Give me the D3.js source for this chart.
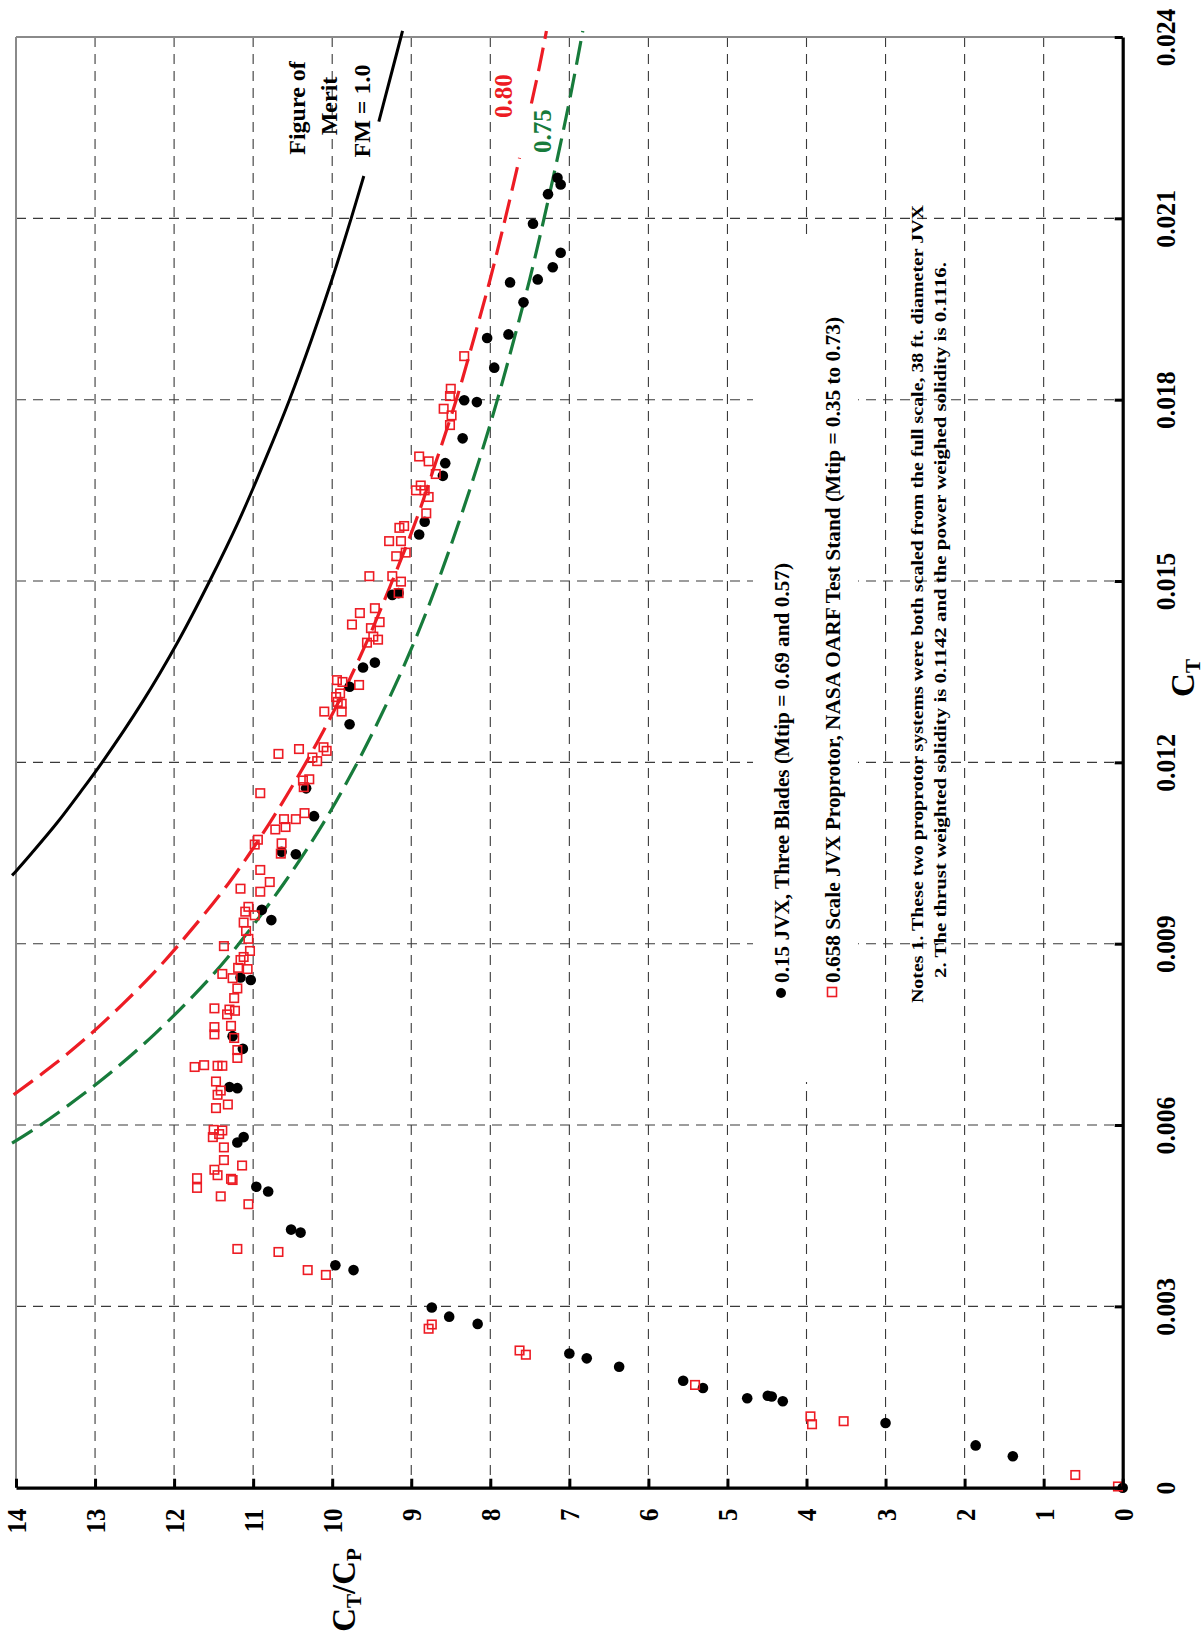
<!DOCTYPE html>
<html>
<head>
<meta charset="utf-8">
<script src="https://cdn.jsdelivr.net/npm/d3@7"></script>
<style>
  html, body { margin: 0; padding: 0; background: #fff; }
  text { font-family: "Liberation Serif", "Times New Roman", serif; font-weight: bold; }
</style>
</head>
<body>
<script>
// ---------------- DATA ----------------
// Tick values
const ctTicks = [0, 0.003, 0.006, 0.009, 0.012, 0.015, 0.018, 0.021, 0.024];
const ctTickLabels = ["0", "0.003", "0.006", "0.009", "0.012", "0.015", "0.018", "0.021", "0.024"];
const ratioTicks = [0, 1, 2, 3, 4, 5, 6, 7, 8, 9, 10, 11, 12, 13, 14];
const ratioTickLabels = ["0", "1", "2", "3", "4", "5", "6", "7", "8", "9", "10", "11", "12", "13", "14"];

// 0.15 JVX, Three Blades (black dots): CT and CT/CP
const blackCT = [0, 0.00052, 0.00070, 0.00107, 0.00143, 0.00151, 0.00152, 0.00148, 0.00165, 0.00177,
  0.00200, 0.00214, 0.00222, 0.00271, 0.00283, 0.00298, 0.00360, 0.00368, 0.00422, 0.00427,
  0.00490, 0.00498, 0.00580, 0.00571, 0.00661, 0.00663, 0.00726, 0.00747, 0.00840, 0.00844,
  0.00939, 0.00956, 0.01048, 0.01052, 0.01111, 0.01157, 0.01263, 0.01325, 0.01357, 0.01365,
  0.01477, 0.01480, 0.01577, 0.01598, 0.01674, 0.01695, 0.01736, 0.01799, 0.01796, 0.01853,
  0.01902, 0.01908, 0.01961, 0.01994, 0.01999, 0.02019, 0.02043, 0.02091, 0.02140, 0.02167, 0.02156];
const blackRatio = [0, 1.39, 1.86, 3.00, 4.30, 4.44, 4.49, 4.75, 5.31, 5.56,
  6.37, 6.78, 7.00, 8.16, 8.52, 8.74, 9.73, 9.96, 10.40, 10.52,
  10.81, 10.96, 11.12, 11.20, 11.20, 11.30, 11.13, 11.26, 11.03, 11.16,
  10.77, 10.89, 10.46, 10.64, 10.23, 10.33, 9.78, 9.78, 9.61, 9.46,
  9.24, 9.16, 8.90, 8.83, 8.60, 8.57, 8.35, 8.33, 8.17, 7.95,
  8.04, 7.77, 7.58, 7.75, 7.40, 7.21, 7.11, 7.46, 7.27, 7.15, 7.11];

// 0.658 Scale JVX Proprotor, NASA OARF (red squares): CT and CT/CP
const redCT = [0.00002, 0.00021, 0.00110, 0.00118, 0.00105, 0.00170, 0.00220, 0.00227, 0.00270, 0.00263,
  0.00352, 0.00360, 0.00390, 0.00395, 0.00469, 0.00482, 0.00512, 0.00496, 0.00511, 0.00509,
  0.00526, 0.00517, 0.00533, 0.00542, 0.00563, 0.00580, 0.00585, 0.00591, 0.00592, 0.00628,
  0.00634, 0.00650, 0.00657, 0.00672, 0.00696, 0.00699, 0.00698, 0.00698, 0.00711, 0.00724,
  0.00744, 0.00750, 0.00762, 0.00764, 0.00783, 0.00789, 0.00791, 0.00793, 0.00810, 0.00826,
  0.00843, 0.00850, 0.00858, 0.00860, 0.00873, 0.00878, 0.00888, 0.00896, 0.00908, 0.00921,
  0.00935, 0.00947, 0.00953, 0.00961, 0.00986, 0.00991, 0.01002, 0.01022, 0.01049, 0.01066,
  0.01064, 0.01072, 0.01089, 0.01093, 0.01106, 0.01106, 0.01116, 0.01149, 0.01159, 0.01170,
  0.01172, 0.01202, 0.01208, 0.01214, 0.01219, 0.01225, 0.01222, 0.01284, 0.01284, 0.01297,
  0.01300, 0.01308, 0.01314, 0.01328, 0.01333, 0.01336, 0.01398, 0.01403, 0.01408, 0.01422,
  0.01428, 0.01432, 0.01447, 0.01455, 0.01480, 0.01499, 0.01508, 0.01508, 0.01541, 0.01547,
  0.01566, 0.01566, 0.01588, 0.01591, 0.01612, 0.01639, 0.01650, 0.01650, 0.01658, 0.01677,
  0.01698, 0.01706, 0.01758, 0.01774, 0.01785, 0.01806, 0.01818, 0.01872];
const redRatio = [0.06, 0.60, 3.53, 3.95, 3.93, 5.41, 7.55, 7.63, 8.74, 8.78,
  10.08, 10.31, 10.68, 11.20, 11.06, 11.41, 11.71, 11.71, 11.28, 11.26,
  11.49, 11.45, 11.14, 11.37, 11.37, 11.51, 11.43, 11.39, 11.50, 11.47,
  11.32, 11.45, 11.41, 11.47, 11.74, 11.62, 11.45, 11.39, 11.20, 11.20,
  11.24, 11.49, 11.49, 11.28, 11.33, 11.23, 11.30, 11.49, 11.24, 11.20,
  11.26, 11.39, 11.07, 11.19, 11.16, 11.12, 11.04, 11.37, 11.06, 11.09,
  11.12, 10.98, 11.10, 11.06, 10.91, 11.16, 10.79, 10.91, 10.65, 10.64,
  10.98, 10.94, 10.72, 10.59, 10.61, 10.46, 10.35, 10.91, 10.36, 10.37,
  10.29, 10.19, 10.25, 10.68, 10.07, 10.11, 10.42, 10.10, 9.88, 9.88,
  9.93, 9.95, 9.90, 9.66, 9.87, 9.94, 9.56, 9.42, 9.48, 9.51,
  9.75, 9.40, 9.65, 9.46, 9.16, 9.13, 9.53, 9.24, 9.19, 9.07,
  9.28, 9.13, 9.15, 9.09, 8.81, 8.78, 8.94, 8.83, 8.88, 8.69,
  8.78, 8.90, 8.51, 8.49, 8.59, 8.51, 8.50, 8.33];

// Figure of merit curves (null = break in the drawn curve)
const fm100CT = [0.01013, 0.0102, 0.0105, 0.011, 0.0115, 0.012, 0.013, 0.014, 0.015, 0.016, 0.017, 0.018, 0.019, 0.020, 0.021, 0.0217, null, 0.0226, 0.023, 0.024, 0.0241];
const fm100Ratio = [14.05, 14.00, 13.80, 13.48, 13.19, 12.91, 12.40, 11.95, 11.55, 11.18, 10.85, 10.54, 10.26, 10.00, 9.76, 9.60, null, 9.41, 9.33, 9.13, 9.11];
const fm080CT = [0.0065, 0.0070, 0.0075, 0.0080, 0.0085, 0.0090, 0.0100, 0.0110, 0.0120, 0.0130, 0.0140, 0.0150, 0.0160, 0.0170, 0.0180, 0.0190, 0.0200, 0.0210, 0.0220, null, 0.0229, 0.0235, 0.0241];
const fm080Ratio = [14.03, 13.52, 13.06, 12.65, 12.27, 11.93, 11.31, 10.79, 10.33, 9.92, 9.56, 9.24, 8.94, 8.68, 8.43, 8.21, 8.00, 7.81, 7.63, null, 7.48, 7.38, 7.29];
const fm075CT = [0.0057, 0.0060, 0.0065, 0.0070, 0.0075, 0.0080, 0.0085, 0.0090, 0.0100, 0.0110, 0.0120, 0.0130, 0.0140, 0.0150, 0.0160, 0.0170, 0.0180, 0.0190, 0.0200, 0.0210, 0.0220, 0.0230, 0.0241];
const fm075Ratio = [14.05, 13.69, 13.16, 12.68, 12.25, 11.86, 11.50, 11.18, 10.61, 10.11, 9.68, 9.30, 8.96, 8.66, 8.39, 8.14, 7.91, 7.70, 7.50, 7.32, 7.15, 6.99, 6.83];

const legendLabels = ["0.15 JVX, Three Blades (Mtip = 0.69 and 0.57)",
  "0.658 Scale JVX Proprotor, NASA OARF Test Stand (Mtip = 0.35 to 0.73)"];
const noteLines = ["Notes 1. These two proprotor systems were both scaled from the full scale, 38 ft. diameter JVX",
  "2. The thrust weighted solidity is 0.1142 and the power weighed solidity is 0.1116."];

// ---------------- LAYOUT ----------------
const W = 1204, H = 1636;
const RED = "#ed1c24", GREEN = "#177b3b";
const svg = d3.select("body").append("svg").attr("width", W).attr("height", H);
svg.append("rect").attr("width", W).attr("height", H).attr("fill", "#fff");

// The chart is drawn rotated: CT runs up the page, CT/CP runs right-to-left.
const xR = d3.scaleLinear().domain([0, 14]).range([1122.7, 16]);     // CT/CP -> screen x
const yC = d3.scaleLinear().domain([0, 0.024]).range([1487.7, 37]);  // CT -> screen y

// grid
const grid = svg.append("g").attr("stroke", "#3a3a3a").attr("stroke-width", 1.1).attr("stroke-dasharray", "10,7");
grid.selectAll("line.v").data(ratioTicks.filter(d => d > 0 && d < 14)).join("line")
  .attr("x1", d => xR(d)).attr("x2", d => xR(d)).attr("y1", yC(0.024)).attr("y2", yC(0));
grid.selectAll("line.h").data(ctTicks.filter(d => d > 0 && d < 0.024)).join("line")
  .attr("y1", d => yC(d)).attr("y2", d => yC(d)).attr("x1", xR(14)).attr("x2", xR(0));

// legend background box (hides the grid behind it)
svg.append("rect").attr("x", 753).attr("y", 240).attr("width", 105).attr("height", 842).attr("fill", "#fff");

// gray frame (top, left)
svg.append("line").attr("x1", xR(14)).attr("x2", xR(0)).attr("y1", yC(0.024)).attr("y2", yC(0.024))
  .attr("stroke", "#8a8a8a").attr("stroke-width", 2);
svg.append("line").attr("x1", xR(14)).attr("x2", xR(14)).attr("y1", yC(0.024)).attr("y2", yC(0))
  .attr("stroke", "#8a8a8a").attr("stroke-width", 2);

// curves
const line = d3.line()
  .defined(d => d[0] != null)
  .x(d => xR(d[1])).y(d => yC(d[0]))
  .curve(d3.curveCatmullRom);
const zip = (a, b) => a.map((v, i) => [v, b[i]]);
svg.append("path").attr("d", line(zip(fm100CT, fm100Ratio))).attr("fill", "none")
  .attr("stroke", "#000").attr("stroke-width", 3);
svg.append("path").attr("d", line(zip(fm080CT, fm080Ratio))).attr("fill", "none")
  .attr("stroke", RED).attr("stroke-width", 3.2).attr("stroke-dasharray", "24,9");
svg.append("path").attr("d", line(zip(fm075CT, fm075Ratio))).attr("fill", "none")
  .attr("stroke", GREEN).attr("stroke-width", 3.2).attr("stroke-dasharray", "24,9");

// data points
svg.append("g").selectAll("circle").data(zip(blackCT, blackRatio)).join("circle")
  .attr("cx", d => xR(d[1])).attr("cy", d => yC(d[0])).attr("r", 5.3).attr("fill", "#000");
const sq = 8.5;
svg.append("g").selectAll("rect").data(zip(redCT, redRatio)).join("rect")
  .attr("x", d => xR(d[1]) - sq / 2).attr("y", d => yC(d[0]) - sq / 2)
  .attr("width", sq).attr("height", sq).attr("fill", "none").attr("stroke", RED).attr("stroke-width", 1.6);

// rotated text helper
function rtext(x, y, str, size, anchor, fill, extra) {
  const t = svg.append("text")
    .attr("transform", `translate(${x},${y}) rotate(-90)` + (extra && extra.scale ? ` scale(${extra.scale},1)` : ""))
    .attr("text-anchor", anchor).attr("dy", "0.35em")
    .attr("font-size", size).attr("fill", fill || "#000").text(str);
  if (extra && extra.len) t.attr("textLength", extra.len).attr("lengthAdjust", "spacingAndGlyphs");
  return t;
}

// curve labels
rtext(297, 108, "Figure of", 24, "middle");
rtext(329, 106, "Merit", 24, "middle");
rtext(362, 111, "FM = 1.0", 24, "middle");
rtext(503, 96, "0.80", 25, "middle", RED);
rtext(542, 131, "0.75", 25, "middle", GREEN);

// legend
svg.append("circle").attr("cx", 781).attr("cy", 993).attr("r", 5).attr("fill", "#000");
svg.append("rect").attr("x", 832 - 4.5).attr("y", 992 - 4.5).attr("width", 9).attr("height", 9)
  .attr("fill", "none").attr("stroke", RED).attr("stroke-width", 1.6);
rtext(782, 983, legendLabels[0], 21, "start", "#000", { len: 420 });
rtext(833, 983, legendLabels[1], 21, "start", "#000", { len: 666 });
rtext(917, 1003, noteLines[0], 17, "start", "#000", { len: 798 });
rtext(940, 978, noteLines[1], 17, "start", "#000", { len: 716 });

// axes
const axR = d3.axisRight(yC).tickValues(ctTicks).tickSizeInner(-8).tickSizeOuter(0)
  .tickFormat((d, i) => ctTickLabels[i]);
const gR = svg.append("g").attr("transform", `translate(${xR(0)},0)`).call(axR);
const axB = d3.axisBottom(xR).tickValues(ratioTicks).tickSizeInner(-9).tickSizeOuter(0)
  .tickFormat((d, i) => ratioTickLabels[i]);
const gB = svg.append("g").attr("transform", `translate(0,${yC(0)})`).call(axB);
[gR, gB].forEach(g => {
  g.select(".domain").attr("stroke", "#000").attr("stroke-width", 3.2);
  g.selectAll(".tick line").attr("stroke", "#000").attr("stroke-width", 3);
});
gR.selectAll(".tick text").attr("x", null).attr("y", null).attr("dy", "0.35em")
  .attr("transform", "translate(43,0) rotate(-90) scale(0.95,1)").attr("text-anchor", "middle")
  .attr("font-size", 27).attr("fill", "#000")
  .style("font-family", '"Liberation Serif", serif').style("font-weight", "bold");
gB.selectAll(".tick text").attr("x", null).attr("y", null).attr("dy", "0.35em")
  .attr("transform", "translate(0,21) rotate(-90) scale(0.92,1)").attr("text-anchor", "end")
  .attr("font-size", 27).attr("fill", "#000")
  .style("font-family", '"Liberation Serif", serif').style("font-weight", "bold");

// axis titles
const tCT = svg.append("text").attr("transform", "translate(1182,678) rotate(-90)")
  .attr("text-anchor", "middle").attr("dy", "0.35em").attr("font-size", 33);
tCT.append("tspan").text("C");
tCT.append("tspan").attr("font-size", 21).attr("dy", 6).text("T");

const tR = svg.append("text").attr("transform", "translate(343,1590) rotate(-90)")
  .attr("text-anchor", "middle").attr("dy", "0.35em").attr("font-size", 33);
tR.append("tspan").text("C");
tR.append("tspan").attr("font-size", 21).attr("dy", 6).text("T");
tR.append("tspan").attr("dy", -6).text("/C");
tR.append("tspan").attr("font-size", 21).attr("dy", 6).text("P");
</script>
</body>
</html>
